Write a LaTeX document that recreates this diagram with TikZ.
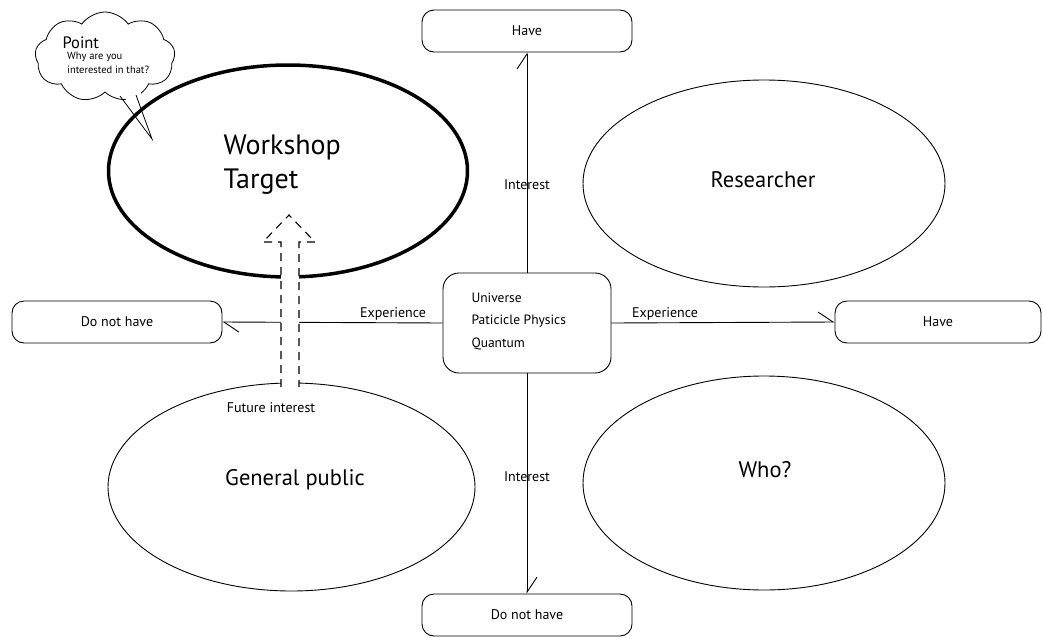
\documentclass[tikz,border=0pt]{standalone}
\usepackage{fontspec}
\setmainfont{PT Sans}
\usetikzlibrary{shapes.geometric,shapes.symbols,arrows.meta}
\tikzset{
  answer/.style={draw, rounded corners=12pt, minimum width=210pt, minimum height=42pt, line width=0.9pt, font=\fontsize{14}{16}\selectfont},
  group/.style={draw, ellipse, line width=0.9pt, inner sep=0pt},
  groupname/.style={font=\fontsize{22.5}{26}\selectfont},
  axis/.style={line width=0.9pt, -{Straight Barb[harpoon,length=15pt,width=20pt]}},
  axislabel/.style={font=\fontsize{14}{16}\selectfont}
}

\begin{document}
\begin{tikzpicture}[x=1pt,y=-1pt]
\useasboundingbox (0,0) rectangle (1043,637);

% speech cloud
\node[cloud, draw, line width=0.8pt, cloud puffs=9, cloud puff arc=110, aspect=1.7, minimum width=140pt, minimum height=90pt] (point) at (105,57) {};
\fill[white] (117,86) -- (152,139) -- (139,86) -- cycle;
\draw[line width=0.8pt] (120,96) -- (152,139) -- (136,95);
\node[anchor=west, font=\fontsize{16.5}{18}\selectfont] (pointtitle) at (59,43) {Point};
\node[anchor=north west, align=left, font=\fontsize{10.5}{13.5}\selectfont, inner sep=0pt] (pointtext) at (67,52) {Why are you\\interested in that?};

% the four groups
\node[group, line width=3.5pt, minimum width=359pt, minimum height=212pt] (target) at (288,171) {};
\node[group, minimum width=362pt, minimum height=207pt] (researcher) at (764,183.5) {};
\node[group, minimum width=367pt, minimum height=208pt] (public) at (291.5,487) {};
\node[group, minimum width=362pt, minimum height=214pt] (who) at (764,483) {};
\node[anchor=west, align=left, font=\fontsize{28}{34}\selectfont] (targetname) at (220,165) {Workshop\\Target};
\node[groupname] (researchername) at (763,180) {Researcher};
\node[groupname] (publicname) at (295,480) {General public};
\node[groupname] (whoname) at (765,470) {Who?};

% axes
\node[draw, rounded corners=16pt, minimum width=168pt, minimum height=100pt, line width=0.9pt] (topic) at (527,323) {};
\node[anchor=west, align=left, font=\fontsize{13.5}{22.5}\selectfont] (topictext) at (468,321) {Universe\\Paticicle Physics\\Quantum};
\node[answer] (intyes) at (527,31) {Have};
\node[answer] (intno) at (527,615) {Do not have};
\node[answer] (expno) at (117,322) {Do not have};
\node[answer, minimum width=206pt] (expyes) at (938,322) {Have};
\node[axislabel] (intup) at (527,185) {Interest};
\node[axislabel] (intdown) at (527,477) {Interest};
\node[axislabel] (expleft) at (393,314) {Experience};
\node[axislabel] (expright) at (665,314) {Experience};
\draw[axis] (topic.north) -- (intyes.south);
\draw[axis] (topic.south) -- (intno.north);
\draw[axis] (topic.west) -- (expno.east);
\draw[axis] (topic.east) -- (expyes.west);

% future interest arrow
\fill[white] (281,390) -- (281,242) -- (263,242) -- (289,215) -- (315,242) -- (299,242) -- (299,390) -- cycle;
\draw[line width=1.1pt, dash pattern=on 8pt off 6pt] (281,387) -- (281,242) -- (263,242) -- (289,215) -- (315,242) -- (299,242) -- (299,387);
\node[axislabel] (future) at (271,408) {Future interest};
\end{tikzpicture}
\end{document}
